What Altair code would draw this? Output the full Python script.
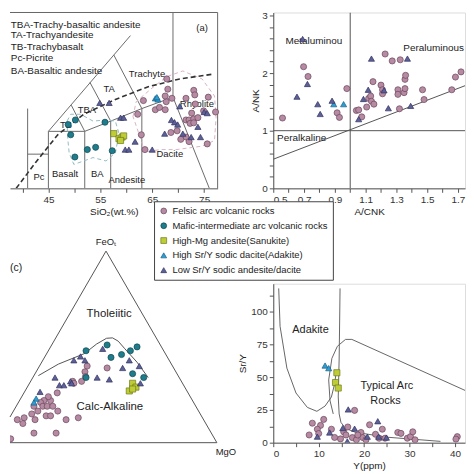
import math
import altair as alt
import pandas as pd

S = 458 / 474

GROUPS = ["Felsic arc volcanic rocks", "Mafic-intermediate arc volcanic rocks",
          "High-Mg andesite(Sanukite)", "High Sr/Y sodic dacite(Adakite)",
          "Low Sr/Y sodic andesite/dacite"]
FILLS = ["#b58aa2", "#1f7c8a", "#bfcc36", "#2e9dd2", "#5d5f97"]
STROKES = ["#6a465b", "#0d4750", "#6a7a18", "#1a5f86", "#313360"]
SHAPES = ["circle", "circle", "square", "triangle-up", "triangle-up"]

# ---------------- (a) TAS -----------------
A_FELSIC = [(62.2, 6.5), (62.9, 4.7), (63.6, 3.4), (63.3, 7.7), (65.6, 6.9), (66.4, 7.1), (67.5, 6.9),
            (67.7, 7.6), (67.5, 8.1), (68.0, 8.7), (67.8, 9.6), (68.8, 7.9), (73.0, 8.6), (73.2, 8.2),
            (71.5, 7.9), (75.8, 8.0), (73.3, 7.4), (74.9, 6.8), (77.2, 6.7), (72.6, 6.6), (71.5, 6.0),
            (72.1, 6.0), (73.0, 6.1), (73.8, 6.2), (72.3, 5.7), (73.0, 5.75), (68.6, 4.9), (69.8, 5.05),
            (71.5, 4.5), (70.5, 4.3), (75.6, 3.9), (72.1, 4.1)]
A_MAFIC = [(50.2, 6.0), (49.3, 4.7), (48.8, 5.6), (50.1, 2.75), (52.5, 3.4), (54.1, 3.6), (55.9, 5.8), (57.3, 3.3)]
A_HMA = [(57.6, 4.8), (58.6, 4.35), (59.2, 4.5), (59.5, 4.6), (58.9, 4.2)]
A_ADAKITE = [(65.6, 7.9), (66.1, 7.8), (65.9, 8.0)]
A_LOWSRY = [(54.9, 7.5), (56.7, 7.5), (58.9, 6.2), (59.5, 6.2), (59.8, 3.4), (60.5, 3.4), (61.7, 4.1),
            (65.0, 3.4), (67.4, 4.8), (70.3, 7.2), (75.0, 6.7), (75.6, 6.6), (68.7, 6.0), (69.3, 5.8),
            (69.9, 5.6), (70.9, 4.8), (72.5, 4.5), (74.3, 4.5), (73.8, 5.4)]
TAS_LINES = [[(41, 0), (41, 7)], [(41, 3), (45, 3)], [(45, 0), (45, 5)], [(45, 5), (52, 5)],
             [(52, 0), (52, 5)], [(45, 5), (60.8, 13.4)], [(49.4, 7.3), (52, 5)],
             [(52, 5), (57, 5.9), (63, 7), (69, 8)], [(53, 9.3), (57, 5.9)], [(57, 0), (57, 5.9)],
             [(57.6, 11.7), (63, 7)], [(63, 0), (63, 7)], [(69, 8), (69, 15.43)], [(69, 8), (76, 0)]]
TAS_ALK_CURVE = [(38.8, 0), (42.5, 2.25), (46.8, 4.7), (51.8, 6.5), (57.9, 7.8), (64.1, 8.9), (70.3, 9.6), (76.4, 10.0)]
FELSIC_FIELD = [(61.3, 6.3), (61.9, 7.6), (64.7, 8.7), (67.8, 9.8), (70.9, 10.3), (74.6, 9.6), (77.0, 8.1),
                (77.3, 6.2), (77.0, 4.2), (74.6, 3.7), (69.6, 3.4), (66.6, 3.4), (63.5, 3.2), (62.9, 4.2),
                (61.9, 5.5), (61.3, 6.3)]
MAFIC_FIELD = [(48.6, 5.9), (49.3, 6.5), (51.2, 6.5), (53.6, 5.9), (56.1, 6.0), (57.9, 5.9), (58.6, 4.8),
               (57.9, 3.1), (56.1, 2.4), (53.6, 2.7), (51.8, 2.4), (49.9, 2.1), (49.0, 3.1), (48.7, 4.5), (48.6, 5.9)]
A_FIELD_LABELS = [("Trachyte", 64.0, 10.0), ("TA", 56.7, 8.7), ("TBA", 52.4, 6.9), ("TB", 48.4, 5.6),
                  ("Rhyolite", 73.6, 7.4), ("Dacite", 68.4, 3.0), ("Pc", 43.2, 1.0), ("Basalt", 48.2, 1.3),
                  ("BA", 54.4, 1.3), ("Andesite", 60.1, 0.76), ("(a)", 74.6, 14.1)]
A_KEY_TEXT = ["TBA-Trachy-basaltic andesite", "TA-Trachyandesite", "TB-Trachybasalt", "Pc-Picrite",
              "BA-Basaltic andesite"]
A_KEY_Y = [14.35, 13.42, 12.41, 11.4, 10.3]
A_KEY_X = 37.75
A_XDOM = [37.6, 77.6]
A_YDOM = [0, 15.43]

# ---------------- (b) A/NK vs A/CNK -----------------
B_FELSIC = [(0.56, 1.22), (0.697, 2.11), (0.726, 1.94), (0.978, 1.73), (0.915, 1.31), (0.93, 1.23),
            (1.04, 1.35), (1.055, 1.36), (1.075, 1.24), (1.107, 1.41), (1.12, 1.56), (1.133, 1.60),
            (1.138, 1.51), (1.154, 1.46), (1.148, 1.85), (1.20, 1.79), (1.21, 1.71), (1.21, 1.64),
            (1.227, 2.33), (1.273, 2.21), (1.325, 2.23), (1.31, 1.71), (1.31, 1.63), (1.32, 1.38),
            (1.35, 1.66), (1.356, 1.73), (1.356, 1.89), (1.36, 1.96), (1.47, 1.71), (1.48, 1.54),
            (1.66, 1.71), (1.684, 1.93), (1.72, 2.02)]
B_ADAKITE = [(0.893, 1.46), (0.957, 1.46)]
B_LOWSRY = [(0.691, 2.59), (1.138, 2.25), (1.372, 2.25), (0.722, 1.81), (0.654, 1.59), (0.789, 1.46),
            (0.805, 1.29), (0.882, 1.52), (1.117, 1.71), (1.086, 1.55), (1.22, 1.70), (1.248, 1.39),
            (1.393, 1.43), (1.055, 1.20)]
B_XDOM = [0.5, 1.746]
B_YDOM = [0, 3.05]
B_LINES = [[(1, 0), (1, 3.05)], [(0.5, 1), (1.746, 1)], [(0.5, 0.505), (1.746, 1.78)]]
B_LABELS = [("Metaluminou", 0.764, 2.55, "center"), ("Peraluminous", 1.345, 2.44, "left"),
            ("Peralkaline", 0.525, 0.87, "left")]

# ---------------- (c) AFM ternary (FeOt %, MgO %) -----------------
C_FELSIC = [(40, 21.5), (39, 31), (37, 22), (34.5, 23.5), (32, 23), (32, 19), (31, 20), (26, 15), (22, 14),
            (24, 12), (22, 11), (21, 10), (19, 12), (19, 14), (19, 16.5), (19, 8), (16.5, 11), (15, 9),
            (12, 12), (14, 16), (14, 18), (16.5, 20), (12, 26), (13, 31), (13, 6.6), (10, 7.5), (12, 4),
            (5, 15), (5, 25), (2, 6)]
C_MAFIC = [(48, 17), (51, 25), (44.5, 30), (46, 34), (48, 37), (50, 39), (36, 44), (34, 50), (34, 24)]
C_HMA = [(31, 46.5), (29, 49), (27, 47), (28, 48)]
C_ADAKITE = [(23, 7), (21, 7)]
C_LOWSRY = [(49, 24), (43, 14), (45, 16), (43, 19), (34, 10), (30, 14), (30, 16), (32, 18), (31, 19),
            (34, 29), (33, 35), (39, 38), (43, 39), (40, 45), (31, 50), (26.5, 7)]
C_CURVE = [(35, 2), (41, 8), (46.5, 17), (51.5, 20), (54.5, 23), (54.7, 25.6), (53, 29), (49, 34), (42, 43), (34, 52)]
C_LABELS_BIG = [("Tholeiitic", 67, 17.9), ("Calc-Alkaline", 18.7, 42.4)]
C_LABELS_SMALL = [("FeOₜ", 104.5, -2.25), ("MgO", -5, 106.6)]
C_XDOM = [0.067, 1.0123]
C_YDOM = [0, 0.7186]

# ---------------- (d) Sr/Y vs Y -----------------
D_FELSIC = [(17.9, 24.7), (11.1, 17.8), (8.6, 14.9), (10.4, 13.2), (9.7, 10.3), (7.9, 5.9), (12.8, 10.3),
            (16.4, 12), (15.5, 8.3), (16, 5.9), (17.4, 3.9), (18.3, 2.2), (19.3, 7.8), (19.7, 3.9),
            (20.4, 2.2), (21.2, 13.7), (22.5, 6.4), (23.3, 3.4), (24, 10.3), (24.6, 3.4), (27.4, 7.8),
            (28.1, 7.1), (29.5, 3.4), (30.2, 4.6), (30.7, 8.3), (31.2, 2.2), (40.5, 4.6), (40.2, 2.7),
            (14.8, 2.9), (18.6, 5.9), (10, 7), (13.5, 4)]
D_ADAKITE = [(11.4, 59), (12.2, 57)]
D_HMA = [(14.0, 53.5), (13.7, 46), (14.3, 41.8)]
D_LOWSRY = [(16.5, 25.4), (23, 16.4), (17.9, 10.7), (15.3, 11.2), (12.4, 7.8), (9.7, 4.6), (16.3, 1.0),
            (20.7, 4.6), (24.9, 3.9), (23.2, 4.6)]
D_LINES = [[(1.2, 118), (1.5, 89), (3, 57), (5, 38), (7.5, 27), (9.6, 24), (11.4, 28), (12.8, 35), (13.5, 45), (13.9, 55)],
           [(13.2, 22), (12.5, 32), (12.2, 48), (12.9, 64.5), (14.1, 73.7), (15.9, 79), (17.3, 79), (42.2, 40)],
           [(14.7, 118), (14.6, 90), (14.5, 64), (14.3, 35), (14.5, 22), (14.9, 15.5), (15.9, 11), (18, 8), (25, 4.2), (36.8, 1.0)]]
D_LABELS = [("Adakite", 8.2, 86), ("Typical Arc", 25, 43.7), ("Rocks", 24.7, 32)]
D_XDOM = [0, 42.2]
D_YDOM = [0, 121.6]

# ---------------- layout (pixels) -----------------
W_A, H_TOP = round(216 * S), round(183 * S)
W_C = round(218 * S)
W_B = round(200 * S)
H_BOT = round(166 * S)
SP_COL = round(274 * S) - max(W_A, W_C)
SP_ROW = round(99 * S)
FONT = "Liberation Sans"


def pts_df(groups):
    rows = []
    for g, lst in groups:
        for x, y in lst:
            rows.append({"x": x, "y": y, "g": g})
    return pd.DataFrame(rows)


def lines_df(segs):
    rows = []
    for k, seg in enumerate(segs):
        for i, (x, y) in enumerate(seg):
            rows.append({"seg": k, "i": i, "x": x, "y": y})
    return pd.DataFrame(rows)


def tern(F, M):
    return M / 100 + F / 200, F / 100 * math.sqrt(3) / 2


LEGEND = alt.Legend(title=None, orient="none", legendX=145, legendY=190,
                    strokeColor="#444", fillColor="white", padding=5, labelFontSize=9.5,
                    labelFont=FONT, labelColor="#222", symbolSize=34, rowPadding=3.9,
                    labelLimit=400, symbolStrokeWidth=0.7)


def point_layer(df, X, Y, clip=False):
    return alt.Chart(df).mark_point(filled=True, opacity=1, size=38, strokeWidth=0.7, clip=clip).encode(
        x=X, y=Y,
        fill=alt.Fill("g:N", scale=alt.Scale(domain=GROUPS, range=FILLS), legend=LEGEND),
        stroke=alt.Stroke("g:N", scale=alt.Scale(domain=GROUPS, range=STROKES), legend=LEGEND),
        shape=alt.Shape("g:N", scale=alt.Scale(domain=GROUPS, range=SHAPES), legend=LEGEND),
    )


def line_layer(df, X, Y, color="#6b6b6b", width=1.0, dash=None, clip=True):
    kw = dict(color=color, strokeWidth=width, clip=clip)
    if dash:
        kw["strokeDash"] = dash
    return alt.Chart(df).mark_line(**kw).encode(x=X, y=Y, detail="seg:N", order="i:Q")


def text_layer(df, X, Y, size=9.5, align="center", clip=False):
    return alt.Chart(df).mark_text(font=FONT, fontSize=size, color="#222", align=align,
                                   baseline="middle", clip=clip).encode(x=X, y=Y, text="t:N")


AX = dict(grid=False, tickSize=4, labelFontSize=10, labelFont=FONT, titleFont=FONT, titleFontSize=10,
          titleFontWeight="normal", labelColor="#333", titleColor="#222", tickColor="#555",
          domainColor="#555", labelPadding=2)

# ----- panel a -----
XA = alt.X("x:Q", scale=alt.Scale(domain=A_XDOM, nice=False, zero=False),
           axis=alt.Axis(values=list(range(40, 80, 5)), title="SiO₂(wt.%)", titlePadding=2,
                         labelExpr="(datum.value - 45) % 10 == 0 ? datum.label : ''", **AX))
YA = alt.Y("y:Q", scale=alt.Scale(domain=A_YDOM, nice=False, zero=False), axis=None)

a_pts = pts_df([(GROUPS[0], A_FELSIC), (GROUPS[1], A_MAFIC), (GROUPS[2], A_HMA),
                (GROUPS[3], A_ADAKITE), (GROUPS[4], A_LOWSRY)])
a_frame_df = pd.DataFrame({"x": [A_XDOM[1], A_XDOM[0]], "x2": [A_XDOM[1], A_XDOM[1]],
                           "y": [A_YDOM[0], A_YDOM[1]], "y2": [A_YDOM[1], A_YDOM[1]]})
a_frame = alt.Chart(a_frame_df).mark_rule(color="#666", strokeWidth=1).encode(
    x=XA, y=YA, x2="x2:Q", y2="y2:Q")
a_lab = pd.DataFrame([{"t": t, "x": x, "y": y} for t, x, y in A_FIELD_LABELS])
a_key = pd.DataFrame([{"t": t, "x": A_KEY_X, "y": y} for t, y in zip(A_KEY_TEXT, A_KEY_Y)])
panel_a = alt.layer(
    line_layer(lines_df(TAS_LINES), XA, YA),
    line_layer(lines_df([FELSIC_FIELD]), XA, YA, color="#d9b3c4", width=1, dash=[4, 3]),
    line_layer(lines_df([MAFIC_FIELD]), XA, YA, color="#93bcc4", width=1, dash=[4, 3]),
    line_layer(lines_df([TAS_ALK_CURVE]), XA, YA, color="#333", width=1.6, dash=[5, 3]),
    a_frame,
    text_layer(a_lab, XA, YA, size=9.5),
    text_layer(a_key, XA, YA, size=10, align="left"),
    point_layer(a_pts, XA, YA),
).properties(width=W_A, height=H_TOP, view=alt.ViewBackground(stroke=None))

# ----- panel b -----
XB = alt.X("x:Q", scale=alt.Scale(domain=B_XDOM, nice=False, zero=False),
           axis=alt.Axis(values=[round(0.5 + 0.1 * i, 1) for i in range(13)], title="A/CNK", titlePadding=2,
                         labelExpr="round(datum.value * 10) % 2 == 1 ? format(datum.value, '.1f') : ''", **AX))
YB = alt.Y("y:Q", scale=alt.Scale(domain=B_YDOM, nice=False, zero=False),
           axis=alt.Axis(values=[round(0.2 * i, 1) for i in range(16)], title="A/NK", titlePadding=1,
                         labelExpr="abs(datum.value - round(datum.value)) < 0.01 ? format(datum.value, 'd') : ''", **AX))
b_pts = pts_df([(GROUPS[0], B_FELSIC), (GROUPS[3], B_ADAKITE), (GROUPS[4], B_LOWSRY)])
b_lab_c = pd.DataFrame([{"t": t, "x": x, "y": y} for t, x, y, al in B_LABELS if al == "center"])
b_lab_l = pd.DataFrame([{"t": t, "x": x, "y": y} for t, x, y, al in B_LABELS if al == "left"])
panel_b = alt.layer(
    line_layer(lines_df(B_LINES), XB, YB, color="#555"),
    text_layer(b_lab_c, XB, YB, size=10, clip=True),
    text_layer(b_lab_l, XB, YB, size=10, align="left", clip=True),
    point_layer(b_pts, XB, YB, clip=True),
).properties(width=W_B, height=H_TOP)

# ----- panel c -----
XC = alt.X("x:Q", scale=alt.Scale(domain=C_XDOM, nice=False, zero=False), axis=None)
YC = alt.Y("y:Q", scale=alt.Scale(domain=C_YDOM, nice=False, zero=False), axis=None)

# triangle outline, trimmed where it leaves the visible (cropped) left side
F_CUT = 200 * C_XDOM[0]
M_CUT = 100 * C_XDOM[0]
C_TRIANGLE = [(F_CUT, 0), (100, 0), (0, 100), (0, M_CUT)]


def tern_pts(groups):
    rows = []
    for g, lst in groups:
        for F, M in lst:
            x, y = tern(F, M)
            rows.append({"x": x, "y": y, "g": g})
    return pd.DataFrame(rows)


def tern_lines(segs):
    return lines_df([[tern(F, M) for F, M in seg] for seg in segs])


def tern_text(lst):
    return pd.DataFrame([{"t": t, "x": tern(F, M)[0], "y": tern(F, M)[1]} for t, F, M in lst])


c_pts = tern_pts([(GROUPS[0], C_FELSIC), (GROUPS[1], C_MAFIC), (GROUPS[2], C_HMA),
                  (GROUPS[3], C_ADAKITE), (GROUPS[4], C_LOWSRY)])
c_plab = pd.DataFrame([{"t": "(c)", "x": C_XDOM[0], "y": C_YDOM[1] + 0.07}])
panel_c = alt.layer(
    line_layer(tern_lines([C_TRIANGLE]), XC, YC, color="#555", width=1, clip=False),
    line_layer(tern_lines([C_CURVE]), XC, YC, color="#555", width=1, clip=True),
    text_layer(tern_text(C_LABELS_BIG), XC, YC, size=11.5),
    text_layer(tern_text(C_LABELS_SMALL), XC, YC, size=9.5),
    text_layer(c_plab, XC, YC, size=10.5, align="left"),
    point_layer(c_pts, XC, YC, clip=True),
).properties(width=W_C, height=H_BOT, view=alt.ViewBackground(stroke=None))

# ----- panel d -----
XD = alt.X("x:Q", scale=alt.Scale(domain=D_XDOM, nice=False, zero=False),
           axis=alt.Axis(values=list(range(0, 45, 5)), title="Y(ppm)", titlePadding=2,
                         labelExpr="datum.value % 10 == 0 ? datum.label : ''", **AX))
YD = alt.Y("y:Q", scale=alt.Scale(domain=D_YDOM, nice=False, zero=False),
           axis=alt.Axis(values=[12.5 * i for i in range(10)], title="Sr/Y", titlePadding=3,
                         labelExpr="datum.value % 25 == 0 ? datum.label : ''", **AX))
d_pts = pts_df([(GROUPS[0], D_FELSIC), (GROUPS[2], D_HMA), (GROUPS[3], D_ADAKITE), (GROUPS[4], D_LOWSRY)])
d_lab = pd.DataFrame([{"t": t, "x": x, "y": y} for t, x, y in D_LABELS])
panel_d = alt.layer(
    line_layer(lines_df(D_LINES), XD, YD, color="#666", width=1),
    text_layer(d_lab, XD, YD, size=11, clip=True),
    point_layer(d_pts, XD, YD, clip=True),
).properties(width=W_B, height=H_BOT)

chart = alt.concat(panel_a, panel_b, panel_c, panel_d, columns=2, bounds="flush",
                   spacing=alt.RowColnumber(row=SP_ROW, column=SP_COL)).properties(
    padding=0, background="white"
).configure_view(stroke="#666", strokeWidth=1).configure(font=FONT)

chart.save("out.html", embed_options={"renderer": "svg", "actions": False})
